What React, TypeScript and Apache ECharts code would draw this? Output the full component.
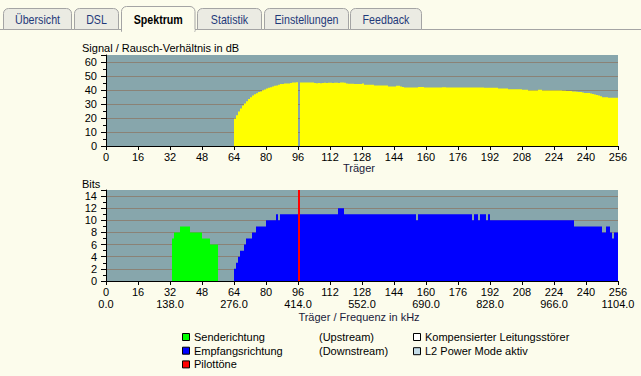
import React, { useEffect, useRef } from "react";
import * as echarts from "echarts";

// ---------- data ----------
const tabLabels = ["Übersicht", "DSL", "Spektrum", "Statistik", "Einstellungen", "Feedback"];
const activeTab = "Spektrum";

const snrTitle = "Signal / Rausch-Verhältnis in dB";
const bitsTitle = "Bits";
const snrXName = "Träger";
const bitsXName = "Träger / Frequenz in kHz";

// kHz labels shown every 32 carriers (0, 32, 64, ... 256)
const freqTickLabels = ["0.0", "138.0", "276.0", "414.0", "552.0", "690.0", "828.0", "966.0", "1104.0"];

// SNR (dB) per carrier, starting at carrier 64
const snrStartCarrier = 64;
const snrValues = [
  19.4, 22.0, 24.6, 26.8, 29.0, 30.3, 32.0, 33.5, // 64-71
  34.9, 36.0, 37.0, 37.6, 38.5, 39.0, 39.8, 40.4, // 72-79
  41.0, 41.6, 42.0, 42.5, 43.0, 43.3, 43.8, 44.2, // 80-87
  44.2, 44.6, 44.7, 44.7, 45.0, 45.3, 45.4, 45.6, // 88-95
  0, 45.4, 45.4, 45.3, 45.4, 45.3, 45.4, 45.3, // 96-103
  45.0, 44.9, 45.0, 44.9, 45.0, 45.1, 45.0, 45.1, // 104-111
  45.1, 45.0, 45.2, 45.1, 45.0, 45.4, 45.4, 45.2, // 112-119
  44.7, 44.4, 44.4, 44.4, 44.2, 44.2, 44.2, 44.2, // 120-127
  44.7, 43.7, 43.8, 43.7, 43.7, 43.7, 43.2, 43.2, // 128-135
  43.2, 43.2, 43.2, 43.2, 43.2, 42.5, 42.5, 42.5, // 136-143
  42.5, 43.0, 43.0, 42.5, 42.2, 41.8, 41.8, 41.8, // 144-151
  41.8, 41.8, 41.8, 41.8, 42.2, 42.2, 42.2, 41.8, // 152-159
  41.8, 41.8, 41.8, 41.8, 41.8, 41.8, 41.8, 41.8, // 160-167
  42.0, 42.0, 41.8, 41.8, 41.8, 41.8, 41.8, 41.8, // 168-175
  41.8, 41.8, 41.8, 41.8, 41.8, 41.8, 41.8, 41.8, // 176-183
  41.8, 41.8, 41.8, 41.8, 41.8, 41.6, 41.6, 41.6, // 184-191
  41.6, 41.6, 41.6, 41.6, 41.1, 41.1, 41.1, 41.1, // 192-199
  41.1, 40.6, 40.6, 40.6, 40.6, 40.6, 40.6, 40.6, // 200-207
  40.1, 40.1, 40.1, 39.7, 39.7, 39.7, 39.7, 39.7, // 208-215
  40.1, 40.1, 39.7, 39.7, 39.7, 39.7, 39.7, 39.7, // 216-223
  39.7, 39.7, 39.7, 39.7, 39.5, 39.5, 39.3, 39.3, // 224-231
  39.3, 39.0, 39.0, 38.8, 38.5, 38.5, 38.2, 37.8, // 232-239
  37.8, 37.8, 37.5, 37.2, 36.8, 36.4, 36.0, 35.6, // 240-247
  34.9, 34.9, 34.9, 34.4, 34.4, 34.4, 34.4, 34.4, // 248-255
];

// Upstream bits per carrier, starting at carrier 33
const usStartCarrier = 33;
const usBits = [7, 8, 8, 8, 9, 9, 9, 9, 9, 8, 8, 8, 8, 8, 8, 7, 7, 7, 7, 6, 6, 6, 6];

// Downstream bits per carrier, starting at carrier 64
const dsStartCarrier = 64;
const dsBits = [
  2, 3, 4, 5, 5, 6, 7, 7, // 64-71
  7, 8, 8, 9, 9, 9, 9, 9, // 72-79
  10, 10, 10, 10, 10, 11, 10, 11, // 80-87
  11, 11, 11, 11, 11, 11, 11, 11, // 88-95
  11, 11, 11, 11, 11, 11, 11, 11, // 96-103
  11, 11, 11, 11, 11, 11, 11, 11, // 104-111
  11, 11, 11, 11, 12, 12, 12, 11, // 112-119
  11, 11, 11, 11, 11, 11, 11, 11, // 120-127
  11, 11, 11, 11, 11, 11, 11, 11, // 128-135
  11, 11, 11, 11, 11, 11, 11, 11, // 136-143
  11, 11, 11, 11, 11, 11, 11, 11, // 144-151
  11, 11, 11, 10, 11, 11, 11, 11, // 152-159
  11, 11, 11, 11, 11, 11, 11, 11, // 160-167
  11, 11, 11, 11, 11, 11, 11, 11, // 168-175
  11, 11, 11, 11, 11, 11, 11, 10, // 176-183
  11, 11, 10, 11, 11, 11, 10, 11, // 184-191
  10, 10, 10, 10, 10, 10, 10, 10, // 192-199
  10, 10, 10, 10, 10, 10, 10, 10, // 200-207
  10, 10, 10, 10, 10, 10, 10, 10, // 208-215
  10, 10, 10, 10, 10, 10, 10, 10, // 216-223
  10, 10, 10, 10, 10, 10, 10, 10, // 224-231
  10, 10, 9, 9, 9, 9, 9, 9, // 232-239
  9, 9, 9, 9, 9, 9, 9, 9, // 240-247
  8, 8, 9, 9, 8, 7, 8, 8, // 248-255
];

const pilotCarriers = [96];

const legendLeft = [
  { label: "Senderichtung", color: "#00ff00", note: "(Upstream)" },
  { label: "Empfangsrichtung", color: "#0000ff", note: "(Downstream)" },
  { label: "Pilottöne", color: "#ff0000", note: "" },
];
const legendRight = [
  { label: "Kompensierter Leitungsstörer", color: "#ffffff" },
  { label: "L2 Power Mode aktiv", color: "#c4dce8" },
];

// ---------- styles ----------
const FONT = '"Liberation Sans", Arial, sans-serif';
const PAGE_BG = "#fcfcec";
const PLOT_BG = "#87a6ac";
const GRID_LINE = "#8a8276";
const TAB_BG = "#ebebe3";
const TAB_BORDER = "#a4a4a4";
const TAB_TEXT = "#1f3a7a";

function barRenderer(color: string) {
  return (params: any, api: any) => {
    const c = api.value(0);
    const v = api.value(1);
    const p0 = api.coord([c, 0]);
    const p1 = api.coord([c + 1, v]);
    return {
      type: "rect",
      shape: { x: p0[0], y: p1[1], width: p1[0] - p0[0], height: p0[1] - p1[1] },
      style: { fill: color },
    };
  };
}

function pilotRenderer(color: string) {
  return (params: any, api: any) => {
    const c = api.value(0);
    const p0 = api.coord([c, 0]);
    const p1 = api.coord([c + 1, 0]);
    const top = params.coordSys.y;
    return {
      type: "rect",
      shape: { x: p0[0], y: top, width: p1[0] - p0[0], height: p0[1] - top },
      style: { fill: color },
    };
  };
}

export default function App() {
  const ref = useRef<HTMLDivElement>(null);

  useEffect(() => {
    if (!ref.current) return;
    const chart = echarts.init(ref.current, undefined, { renderer: "svg" });

    const snrData = snrValues
      .map((v, i) => [snrStartCarrier + i, v])
      .filter((d) => d[1] > 0);
    const usData = usBits.map((v, i) => [usStartCarrier + i, v]);
    const dsData = dsBits.map((v, i) => [dsStartCarrier + i, v]);
    const pilotData = pilotCarriers.map((c) => [c, 0]);

    const gridLeft = 106;
    const plotW = 512;

    const xAxisBase = {
      type: "value",
      min: 0,
      max: 256,
      interval: 16,
      axisLine: { show: true, lineStyle: { color: "#000", width: 1 } },
      axisTick: { show: true, length: 4, lineStyle: { color: "#000" } },
      splitLine: { show: false },
    };

    const yAxisBase = {
      type: "value",
      min: 0,
      axisLine: { show: true, lineStyle: { color: "#000", width: 1 } },
      axisTick: { show: true, length: 5, lineStyle: { color: "#000" } },
      minorTick: { show: true, splitNumber: 2, length: 3, lineStyle: { color: "#000" } },
      splitLine: { show: true, showMaxLine: false, lineStyle: { color: GRID_LINE, width: 1 } },
      axisLabel: {
        fontSize: 11,
        fontFamily: FONT,
        color: "#000",
        margin: 9,
        showMaxLabel: false,
      },
    };

    // Tabs geometry
    const tabBoxes = [
      { x: 3.5, w: 68 },
      { x: 74.5, w: 44 },
      { x: 121.5, w: 73.5 },
      { x: 197.5, w: 64 },
      { x: 264.5, w: 84 },
      { x: 350.5, w: 71 },
    ];
    const graphics: any[] = [];
    const activeIdx = tabLabels.indexOf(activeTab);
    const activeBox = tabBoxes[activeIdx];
    // baseline under tabs
    graphics.push({
      type: "line",
      shape: { x1: 0, y1: 29.5, x2: activeBox.x, y2: 29.5 },
      style: { stroke: TAB_BORDER, lineWidth: 1 },
    });
    graphics.push({
      type: "line",
      shape: { x1: activeBox.x + activeBox.w, y1: 29.5, x2: 641, y2: 29.5 },
      style: { stroke: TAB_BORDER, lineWidth: 1 },
    });
    tabLabels.forEach((label, i) => {
      const b = tabBoxes[i];
      const active = i === activeIdx;
      const top = active ? 6.5 : 8.5;
      graphics.push({
        type: "rect",
        shape: { x: b.x, y: top, width: b.w, height: 29.5 - top + (active ? 2 : 0), r: [5, 5, 0, 0] },
        style: { fill: active ? PAGE_BG : TAB_BG, stroke: TAB_BORDER, lineWidth: 1 },
      });
      if (active) {
        graphics.push({
          type: "rect",
          shape: { x: b.x + 0.5, y: 29, width: b.w - 1, height: 4 },
          style: { fill: PAGE_BG },
        });
      }
      graphics.push({
        type: "text",
        x: b.x + b.w / 2,
        y: 19.5,
        scaleX: 0.89,
        style: {
          text: label,
          x: 0,
          y: 0,
          fill: active ? "#000" : TAB_TEXT,
          fontSize: 12,
          fontWeight: active ? "bold" : "normal",
          fontFamily: FONT,
          align: "center",
          verticalAlign: "middle",
        },
      });
    });

    const txt = (text: string, x: number, y: number, align = "left", fill = "#000") => ({
      type: "text",
      x,
      y,
      style: {
        text,
        x: 0,
        y: 0,
        fill,
        fontSize: 11,
        fontFamily: FONT,
        align,
        verticalAlign: "middle",
      },
    });

    graphics.push(txt(snrTitle, 82, 47.5));
    graphics.push(txt(bitsTitle, 82, 184));
    graphics.push(txt(snrXName, 359, 168, "center", "#1a1a3a"));
    graphics.push(txt(bitsXName, 359, 316.5, "center", "#1a1a3a"));

    legendLeft.forEach((item, i) => {
      const y = 333.5 + i * 13.7;
      graphics.push({
        type: "rect",
        shape: { x: 182.5, y, width: 7, height: 7 },
        style: { fill: item.color, stroke: "#000", lineWidth: 1 },
      });
      graphics.push(txt(item.label, 194, y + 3.5));
      if (item.note) graphics.push(txt(item.note, 319, y + 3.5));
    });
    legendRight.forEach((item, i) => {
      const y = 333.5 + i * 14.2;
      graphics.push({
        type: "rect",
        shape: { x: 413.5, y, width: 7, height: 7 },
        style: { fill: item.color, stroke: "#000", lineWidth: 1 },
      });
      graphics.push(txt(item.label, 425, y + 3.5));
    });

    const option: any = {
      animation: false,
      backgroundColor: PAGE_BG,
      textStyle: { fontFamily: FONT },
      grid: [
        {
          left: gridLeft,
          top: 55,
          width: plotW,
          height: 91,
          show: true,
          backgroundColor: PLOT_BG,
          borderWidth: 0,
        },
        {
          left: gridLeft,
          top: 190,
          width: plotW,
          height: 91,
          show: true,
          backgroundColor: PLOT_BG,
          borderWidth: 0,
        },
      ],
      xAxis: [
        {
          ...xAxisBase,
          gridIndex: 0,
          axisLabel: { fontSize: 11, fontFamily: FONT, color: "#000", margin: 5 },
        },
        {
          ...xAxisBase,
          gridIndex: 1,
          axisLabel: {
            fontSize: 11,
            fontFamily: FONT,
            color: "#000",
            margin: 5,
            lineHeight: 12,
            formatter: (v: number) =>
              v % 32 === 0 ? `${v}\n${freqTickLabels[v / 32]}` : `${v}`,
          },
        },
      ],
      yAxis: [
        { ...yAxisBase, gridIndex: 0, max: 65, interval: 10 },
        { ...yAxisBase, gridIndex: 1, max: 15, interval: 2 },
      ],
      series: [
        {
          name: "SNR",
          type: "custom",
          xAxisIndex: 0,
          yAxisIndex: 0,
          encode: { x: 0, y: 1 },
          renderItem: barRenderer("#ffff00"),
          data: snrData,
          z: 3,
        },
        {
          name: "Senderichtung",
          type: "custom",
          xAxisIndex: 1,
          yAxisIndex: 1,
          encode: { x: 0, y: 1 },
          renderItem: barRenderer("#00ff00"),
          data: usData,
          z: 3,
        },
        {
          name: "Empfangsrichtung",
          type: "custom",
          xAxisIndex: 1,
          yAxisIndex: 1,
          encode: { x: 0, y: 1 },
          renderItem: barRenderer("#0000ff"),
          data: dsData,
          z: 3,
        },
        {
          name: "Pilottöne",
          type: "custom",
          xAxisIndex: 1,
          yAxisIndex: 1,
          encode: { x: 0, y: 1 },
          renderItem: pilotRenderer("#ff0000"),
          data: pilotData,
          z: 4,
        },
      ],
      graphic: graphics,
    };

    chart.setOption(option);
    return () => chart.dispose();
  }, []);

  return (
    <div
      ref={ref}
      style={{ position: "absolute", left: 0, top: 0, width: 641, height: 376, background: PAGE_BG }}
    />
  );
}
